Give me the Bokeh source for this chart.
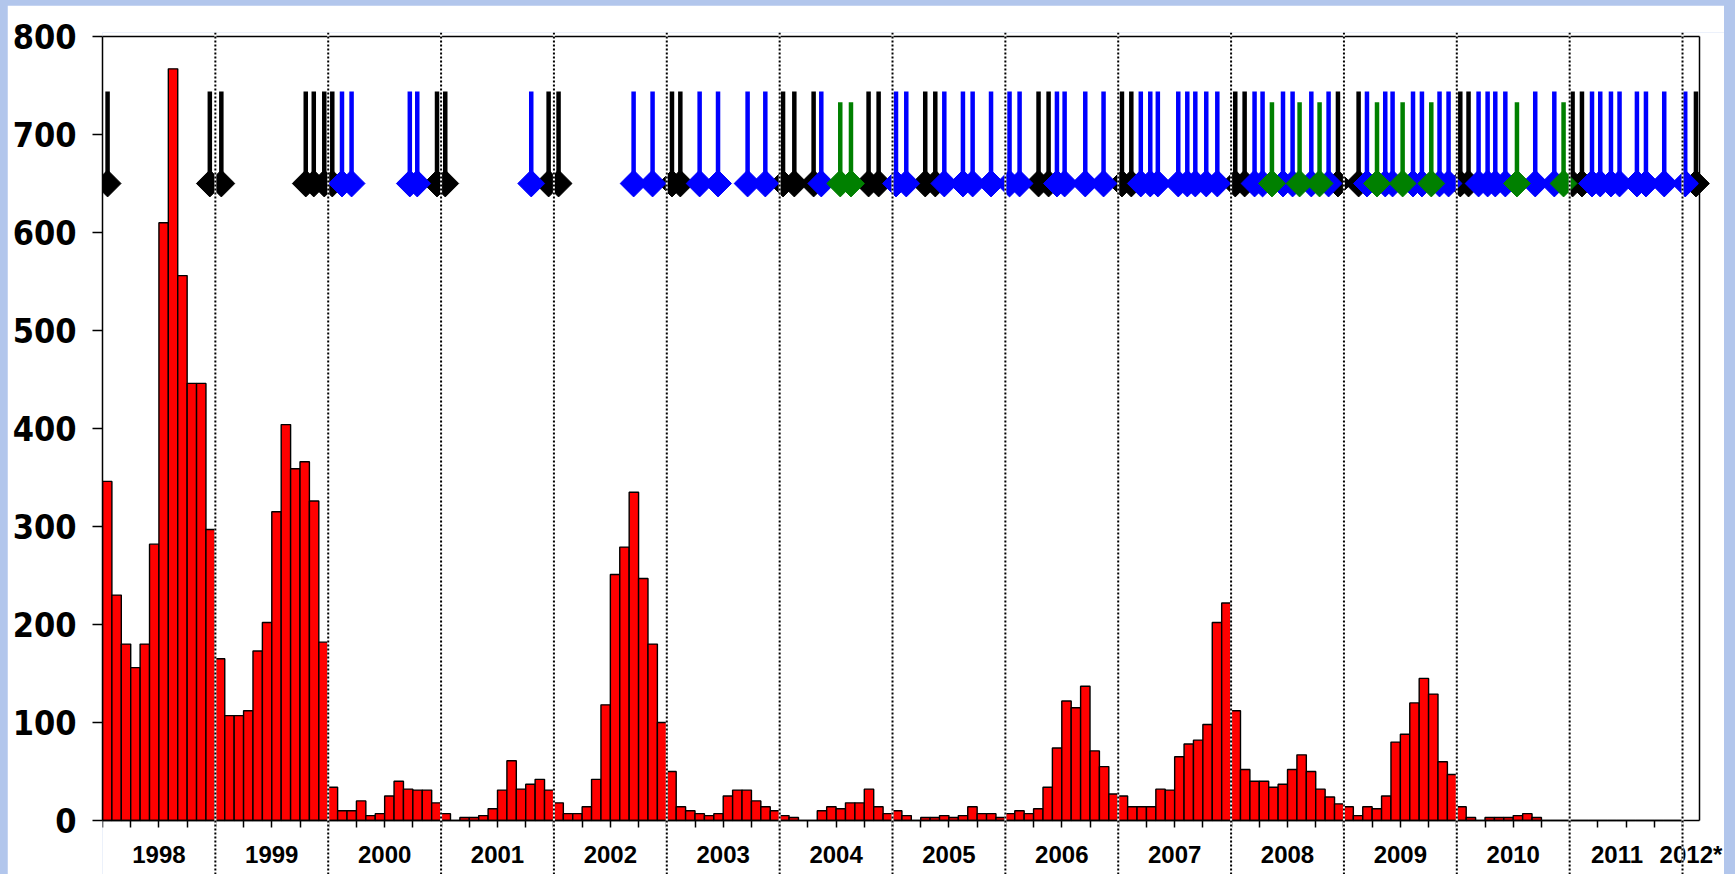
import numpy as np
from bokeh.plotting import figure
from bokeh.models import Range1d, LinearAxis, FixedTicker, Span, ColumnDataSource, Column
from bokeh.embed import file_html
from bokeh.resources import INLINE

# ---------------- data (monthly counts, Jan 1998 .. Dec 2011) ----------------
cases_1998 = [346, 230, 180, 156, 180, 282, 610, 767, 556, 446, 446, 297]
cases_1999 = [165, 107, 107, 112, 173, 202, 315, 404, 359, 366, 326, 182]
cases_2000 = [34, 10, 10, 20, 5, 7, 25, 40, 32, 31, 31, 18]
cases_2001 = [7, 0, 3, 3, 5, 12, 31, 61, 32, 37, 42, 31]
cases_2002 = [18, 7, 7, 14, 42, 118, 251, 279, 335, 247, 180, 100]
cases_2003 = [50, 14, 10, 7, 5, 7, 25, 31, 31, 20, 14, 10]
cases_2004 = [5, 3, 0, 0, 10, 14, 12, 18, 18, 32, 14, 7]
cases_2005 = [10, 5, 0, 3, 3, 5, 3, 5, 14, 7, 7, 3]
cases_2006 = [7, 10, 7, 12, 34, 74, 122, 115, 137, 71, 55, 27]
cases_2007 = [25, 14, 14, 14, 32, 31, 65, 78, 82, 98, 202, 222]
cases_2008 = [112, 52, 40, 40, 34, 37, 52, 67, 50, 32, 24, 17]
cases_2009 = [14, 5, 14, 12, 25, 80, 88, 120, 145, 129, 60, 47]
cases_2010 = [14, 3, 0, 3, 3, 3, 5, 7, 3, 0, 0, 0]
cases_2011 = [0, 0, 0, 0, 0, 0, 0, 0, 0, 0, 0, 0]

monthly_cases = (cases_1998 + cases_1999 + cases_2000 + cases_2001 + cases_2002 +
                 cases_2003 + cases_2004 + cases_2005 + cases_2006 + cases_2007 +
                 cases_2008 + cases_2009 + cases_2010 + cases_2011)
first_year = 1998

# event dates (decimal years)
black_events = [1998.045, 1998.951, 1999.053, 1999.801, 1999.872, 1999.965, 2000.036,
                2000.964, 2001.037, 2001.953, 2002.041, 2003.046, 2003.120, 2004.030,
                2004.130, 2004.301, 2004.788, 2004.877, 2005.290, 2005.379, 2006.294,
                2006.383, 2007.033, 2007.116, 2008.037, 2008.120, 2008.947, 2009.130,
                2010.031, 2010.104, 2011.026, 2011.109, 2012.119]
blue_events = [2000.122, 2000.207, 2000.723, 2000.789, 2001.799, 2002.706, 2002.874,
               2003.291, 2003.454, 2003.716, 2003.873, 2004.369, 2005.031, 2005.122,
               2005.459, 2005.624, 2005.710, 2005.873, 2006.037, 2006.126, 2006.457,
               2006.525, 2006.708, 2006.870, 2007.200, 2007.284, 2007.351, 2007.532,
               2007.612, 2007.683, 2007.780, 2007.878, 2008.208, 2008.279, 2008.460,
               2008.545, 2008.711, 2008.864, 2009.204, 2009.366, 2009.431, 2009.612,
               2009.691, 2009.847, 2009.927, 2010.193, 2010.273, 2010.341, 2010.430,
               2010.695, 2010.864, 2011.198, 2011.271, 2011.366, 2011.442, 2011.596,
               2011.676, 2011.838, 2012.024]
green_events = [2004.537, 2004.632, 2008.362, 2008.607, 2008.784, 2009.293, 2009.520,
                2009.774, 2010.533, 2010.946]

year_labels = ["1998", "1999", "2000", "2001", "2002", "2003", "2004", "2005",
               "2006", "2007", "2008", "2009", "2010", "2011", "2012*"]
year_label_pos = [1998.5, 1999.5, 2000.5, 2001.5, 2002.5, 2003.5, 2004.5, 2005.5,
                  2006.5, 2007.5, 2008.5, 2009.5, 2010.5, 2011.42, 2012.075]
year_boundaries = [1999, 2000, 2001, 2002, 2003, 2004, 2005, 2006, 2007, 2008,
                   2009, 2010, 2011, 2012]
y_ticks = [0, 100, 200, 300, 400, 500, 600, 700, 800]

# ---------------- style constants ----------------
MARK_Y = 650
STEM_TOP = 744
STEM_TOP_GREEN = 733
X_END = 2012.149      # right edge of the chart box
X_VIEW_END = 2012.372 # right edge of the drawing area
SLIDE_BLUE = "#B2C6EC"

p = figure(width=1717, height=869, output_backend="svg", toolbar_location=None,
           x_range=Range1d(first_year, X_VIEW_END), y_range=Range1d(-55.1, 804.08),
           x_axis_location=None, y_axis_location=None,
           min_border_left=95, min_border_right=0, min_border_top=27, min_border_bottom=0,
           outline_line_color=None, background_fill_color="white",
           border_fill_color="white")
p.margin = (5, 11, 0, 7)
p.xgrid.visible = False
p.ygrid.visible = False

# bars
month_x = [first_year + (i + 0.5) / 12 for i in range(len(monthly_cases))]
bars = ColumnDataSource(dict(x=month_x, top=monthly_cases))
p.vbar(x="x", top="top", bottom=0, width=1 / 12, source=bars,
       fill_color="#FF0000", line_color="black", line_width=1.4)

# events: stems + diamonds
for events, color, top in [(black_events, "black", STEM_TOP),
                           (blue_events, "#0000FF", STEM_TOP),
                           (green_events, "#008000", STEM_TOP_GREEN)]:
    src = ColumnDataSource(dict(x=events, y0=[MARK_Y] * len(events), y1=[top] * len(events)))
    p.segment(x0="x", y0="y0", x1="x", y1="y1", source=src, line_color=color,
              line_width=4.5, line_cap="butt")
    p.scatter(x="x", y="y0", source=src, marker="square", angle=np.pi / 4, size=19,
              fill_color=color, line_color=color, line_width=1)

# dotted year separators (black dots on white)
for yb in year_boundaries:
    p.add_layout(Span(location=yb, dimension="height", line_color="white", line_width=2))
    p.add_layout(Span(location=yb, dimension="height", line_color="black",
                      line_width=2, line_dash="2 2"))

def frame_axis(loc, bounds):
    ax = LinearAxis(ticker=FixedTicker(ticks=[]), bounds=bounds, fixed_location=loc)
    ax.axis_line_width = 1.5
    ax.major_tick_out = 0
    ax.major_tick_in = 0
    ax.minor_tick_out = 0
    ax.minor_tick_in = 0
    ax.major_label_text_font_size = "0px"
    return ax

# top and right border of the chart box
p.add_layout(frame_axis(800, (first_year, X_END)), "above")
p.add_layout(frame_axis(X_END, (0, 800)), "right")

# y axis
yaxis = LinearAxis(ticker=FixedTicker(ticks=y_ticks), bounds=(0, 800))
yaxis.axis_line_width = 1.5
yaxis.major_tick_line_width = 1.5
yaxis.major_tick_out = 10
yaxis.major_tick_in = 0
yaxis.minor_tick_out = 0
yaxis.major_label_standoff = 16
yaxis.major_label_text_font = "'DejaVu Sans Condensed', 'Liberation Sans'"
yaxis.major_label_text_font_style = "bold"
yaxis.major_label_text_font_size = "34px"
yaxis.major_label_text_color = "black"
p.add_layout(yaxis, "left")

# x axis at y = 0
quarter_ticks = np.arange(first_year, 2012.001, 0.25).tolist()
xaxis = LinearAxis(ticker=FixedTicker(ticks=year_label_pos, minor_ticks=quarter_ticks),
                   fixed_location=0, bounds=(first_year, X_END))
xaxis.axis_line_width = 1.5
xaxis.major_tick_out = 0
xaxis.major_tick_in = 0
xaxis.minor_tick_out = 7
xaxis.minor_tick_in = 0
xaxis.minor_tick_line_width = 1.5
xaxis.minor_tick_line_color = "black"
xaxis.major_label_standoff = 13
xaxis.major_label_overrides = {pos: lab for pos, lab in zip(year_label_pos, year_labels)}
xaxis.major_label_text_font = "Liberation Sans"
xaxis.major_label_text_font_style = "bold"
xaxis.major_label_text_font_size = "24px"
xaxis.major_label_text_color = "black"
p.add_layout(xaxis, "below")

page = Column(p, styles={"background-color": SLIDE_BLUE})

open("out.html", "w").write(file_html(page, INLINE))
